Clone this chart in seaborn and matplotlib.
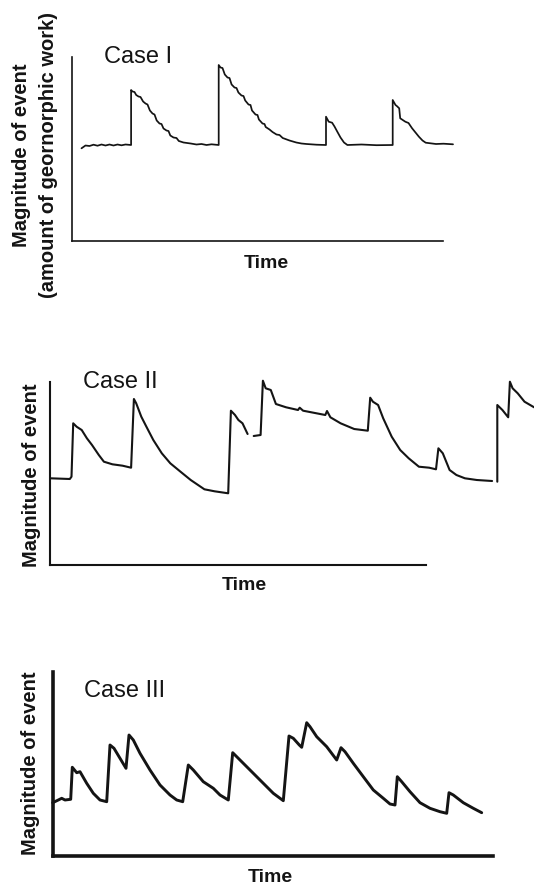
import numpy as np
import pandas as pd
import seaborn as sns
import matplotlib.pyplot as plt

# values (time units, magnitude units); nan = gap in the trace
case1_t = [10, 14, 18, 22, 26, 30, 34, 38, 42, 46, 50, 54, 59.6,
           59.6, 61, 63, 64.7, 67, 69, 71.6, 74, 76, 78.4, 81, 83, 85.2, 88, 90, 92, 95, 97, 98.8, 102, 105,
           107.3, 112, 119.2, 125, 130, 135, 140, 147.2,
           147.2, 149, 151, 153.3, 156, 158, 160.1, 163, 165, 166.9, 170, 172, 173.7, 177, 179, 180.5, 184, 186,
           187.4, 191, 193, 194.2, 198, 201, 205, 208, 211.2, 218, 224.8, 230, 235, 245, 254.5,
           254.5, 257.2, 260.6, 263, 265.7, 269, 272.5, 275.9, 290, 305, 321.2,
           321.2, 324, 325.3, 327.7, 328.7, 333.8, 337, 340.6, 344, 347.4, 351, 354.2, 364.5, 372, 381.5]
case1_m = [92.2, 95, 94.5, 95.8, 94.8, 96, 95, 96, 95, 96, 95.2, 96, 95.5,
           150.5, 149, 148.5, 145.5, 144, 143.5, 139, 137, 136, 130, 127, 126, 120, 117, 116.5, 112, 110, 109.5,
           105, 103, 102.5, 99.5, 98, 97, 96, 96.5, 95.5, 96.2, 95.5,
           175.5, 173, 172.5, 166, 163, 162.5, 156, 153, 152.5, 148, 145, 144.5, 140, 136, 135.5, 130, 126,
           125.5, 121, 117, 116.5, 113.5, 111, 108.5, 106, 105.5, 102.5, 100, 98, 97, 96.5, 95.8, 95.5,
           123.8, 118.8, 117.8, 114, 109, 103, 98, 95.5, 96, 95.3, 95.5,
           140.5, 135.5, 134.5, 132.2, 122.2, 118.8, 117.5, 112.2, 108, 103.8, 100, 97.8, 96.5, 96.8, 96.2]

case2_t = [0, 19.4, 21.1, 22.8, 26.2, 31.3, 36.5, 41.6, 48.4, 53.5, 62, 72.2, 80.7, 83.5, 85.8, 90.9, 96, 102.9,
           111.4, 119.9, 130.1, 140.3, 154, 164.2, 177.8, 180.5, 184.6, 188, 192.1, 197.2, np.nan,
           203.3, 210.2, 212.5, 215.3, 220.4, 225.5, 235.7, 247.6, 249.3, 252.7, 263, 274.9, 276.6, 280, 290.2,
           303.8, 317.4, 319.8, 322.5, 327.7, 332.8, 341.3, 349.8, 358.3, 368.5, 378.8, 385.6, 388, 392.4,
           399.2, 406, 414.5, 426.4, 441.7, np.nan,
           446.9, 446.9, 452, 457.8, 459.5, 462.2, 467.3, 474.1, 483.7]
case2_m = [87, 86.3, 88.6, 142, 138.6, 135.3, 127, 120.3, 110.3, 103.6, 101, 99.6, 97.6, 166.3, 162, 148.6, 138.6,
           125.3, 112, 102, 93.6, 85.3, 76, 74, 72, 154.6, 150.3, 145.3, 142, 131.3, np.nan,
           129.3, 130.3, 184.6, 177, 175.3, 161.3, 158, 155.3, 157.6, 154.6, 152.6, 150.3, 154.3, 148, 142,
           136.3, 134.6, 167.6, 163.6, 160.3, 147, 128.6, 115.3, 107, 98.6, 97.6, 96, 117, 112,
           95.3, 90.3, 87, 85.3, 84.3, np.nan,
           83.6, 160.3, 155.3, 148, 183.6, 177, 172, 163.6, 158]

case3_t = [0, 5.6, 9, 12.3, 18, 19.6, 24, 27.3, 34, 40.6, 47.3, 54, 57.3, 61.3, 67.3, 73.3, 76.3, 80.6, 87.3, 97.3,
           107.3, 117.3, 124, 130, 135.6, 140.6, 150.6, 160.6, 167.3, 175.6, 180, 184, 190.6, 200.6, 210.6,
           220.6, 230.6, 236.3, 240.6, 246.6, 249, 254, 257.3, 264, 274, 284, 288.3, 292.3, 300.6, 310.6,
           320.6, 330.6, 337.3, 342.3, 344.6, 349, 357.3, 367.3, 377.3, 387.3, 394, 396.3, 400.6, 410.6,
           420.6, 429]
case3_m = [53, 55.7, 57.4, 55.7, 56.4, 88.4, 83, 84, 72.4, 62.4, 55.7, 54, 110.7, 107.4, 97.4, 87.4, 120.7, 115.7,
           102.4, 85.7, 70.7, 60.7, 55.7, 54, 90.7, 85.7, 74, 67.4, 60.7, 55.7, 103, 99, 92.4, 82.4, 72.4,
           62.4, 55, 119.7, 117.4, 110.7, 108.4, 133, 129, 119, 109, 95.7, 108, 104, 92.4, 79, 65.7, 57.4,
           51.7, 50.7, 79, 74, 64, 53, 47.4, 44, 42.4, 63, 60.7, 53, 47.4, 43]

case_titles = ["Case I", "Case II", "Case III"]
x_title = "Time"
y_title = "Magnitude of event"
y_title_2 = "(amount of geornorphic work)"

sns.set_style("white")
plt.rcParams['font.family'] = ['Liberation Sans', 'DejaVu Sans']

W, H = 534, 886
ink = '#141414'
fig = plt.figure(figsize=(W / 100, H / 100), dpi=100)


def px_text(x, y, s, **kw):
    fig.text(x / W, 1 - y / H, s, color=ink, **kw)


def panel(box, t, m, lw, spine_w):
    left, top, right, bottom = box
    ax = fig.add_axes([left / W, 1 - bottom / H, (right - left) / W, (bottom - top) / H])
    t = np.asarray(t, float)
    m = np.asarray(m, float)
    df = pd.DataFrame({'time': t, 'magnitude': m, 'seg': np.cumsum(np.isnan(m))}).dropna()
    sns.lineplot(data=df, x='time', y='magnitude', units='seg', estimator=None, sort=False,
                 color=ink, linewidth=lw, ax=ax)
    for ln in ax.lines:
        ln.set_clip_on(False)
    ax.set_xlim(0, right - left)
    ax.set_ylim(0, bottom - top)
    ax.set_xticks([])
    ax.set_yticks([])
    ax.set_xlabel('')
    ax.set_ylabel('')
    sns.despine(ax=ax)
    for s in ['left', 'bottom']:
        ax.spines[s].set_linewidth(spine_w)
        ax.spines[s].set_color(ink)
    ax.patch.set_alpha(0)
    return ax


panel((71.5, 57, 443, 240.5), case1_t, case1_m, 1.25, 1.2)
panel((50.4, 381.7, 426, 565.3), case2_t, case2_m, 1.5, 1.5)
panel((52.7, 672, 492.5, 855.7), case3_t, case3_m, 2.1, 2.6)

# panel titles
px_text(104, 63, case_titles[0], fontsize=17, ha='left', va='baseline')
px_text(83, 388.3, case_titles[1], fontsize=17, ha='left', va='baseline')
px_text(84, 696.7, case_titles[2], fontsize=17, ha='left', va='baseline')

# axis titles
px_text(266, 264, x_title, fontsize=14, fontweight='bold', ha='center', va='center')
px_text(244.5, 586, x_title, fontsize=14, fontweight='bold', ha='center', va='center')
px_text(270, 877, x_title, fontsize=14, fontweight='bold', ha='center', va='center')

px_text(22, 155, y_title, fontsize=14.5, fontweight='bold', rotation=90, ha='center', va='center')
px_text(49, 155, y_title_2, fontsize=14.5, fontweight='bold', rotation=90, ha='center', va='center')
px_text(32, 475, y_title, fontsize=14.5, fontweight='bold', rotation=90, ha='center', va='center')
px_text(30.5, 763, y_title, fontsize=14.5, fontweight='bold', rotation=90, ha='center', va='center')

fig.savefig('out.png', dpi=100, facecolor='white')
